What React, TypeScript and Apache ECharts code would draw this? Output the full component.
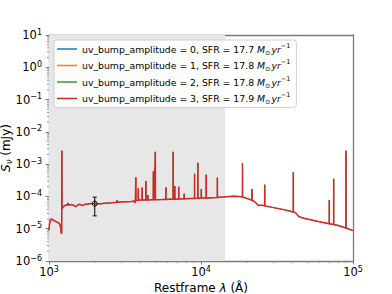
import React, { useEffect, useRef } from "react";
import * as echarts from "echarts";

const wavelengths = [
  1000, 1008, 1020, 1040, 1060, 1080, 1100, 1130, 1160, 1185, 1198, 1206, 1212, 1215, 1218,
  1235, 1260, 1290, 1320, 1335, 1350, 1400, 1450, 1500, 1550, 1600, 1660, 1700, 1800, 1900,
  2000, 2100, 2200, 2300, 2400, 2500, 2600, 2700, 2790, 2800, 2810, 2950, 3100, 3300, 3500,
  3640, 3665, 3700, 3722, 3727, 3732, 3800, 3864, 3869, 3874, 3960, 4096, 4101, 4106, 4200,
  4335, 4340, 4345, 4466, 4471, 4476, 4700, 4856, 4861, 4866, 4954, 4959, 4964, 5002, 5007,
  5012, 5500, 5871, 5876, 5881, 6300, 6557, 6563, 6569, 6720, 6725, 6730, 7130, 7136, 7142,
  7745, 7751, 7757, 8500, 9062, 9069, 9076, 9524, 9531, 9538, 10041, 10049, 10057, 10821, 10830,
  10839, 12808, 12818, 12828, 14000, 15500, 16500, 17500, 18736, 18751, 18766, 20500, 21638, 21655, 21672,
  22500, 23000, 23500, 24000, 24500, 25200, 26231, 26252, 26273, 30000, 35000, 40480, 40512, 40544, 42000,
  43000, 44000, 46000, 50000, 60000, 69800, 69850, 69900, 74550, 74600, 74650, 80000, 89850, 89900, 89950,
  100000,
];
const fluxes = [
  9e-6, 1.4e-5, 1.9e-5, 2.0e-5, 1.85e-5, 1.8e-5, 1.7e-5, 1.6e-5, 1.5e-5, 1.3e-5, 9e-6, 7e-6, 7.5e-6, 2.6e-3, 4.2e-5,
  4.6e-5, 5.1e-5, 5.4e-5, 5.3e-5, 6.3e-5, 5.4e-5, 5.6e-5, 5.3e-5, 4.8e-5, 5.5e-5, 5.7e-5, 5.2e-5, 5.6e-5, 5.8e-5, 6.0e-5,
  6.0e-5, 5.9e-5, 5.9e-5, 6.1e-5, 6.2e-5, 6.3e-5, 6.4e-5, 6.5e-5, 6.5e-5, 7.6e-5, 6.6e-5, 6.7e-5, 6.8e-5, 6.9e-5, 7.0e-5,
  7.2e-5, 6.2e-5, 7.2e-5, 7.3e-5, 3.9e-4, 7.4e-5, 7.5e-5, 7.6e-5, 1.8e-4, 7.6e-5, 7.7e-5, 7.7e-5, 1.9e-4, 7.7e-5, 7.8e-5,
  7.8e-5, 3.0e-4, 7.8e-5, 7.8e-5, 1.1e-4, 7.8e-5, 7.9e-5, 7.9e-5, 6.0e-4, 7.9e-5, 7.9e-5, 8.0e-4, 7.9e-5, 7.9e-5, 2.4e-3,
  7.9e-5, 8.0e-5, 8.1e-5, 1.9e-4, 8.1e-5, 8.2e-5, 8.2e-5, 2.4e-3, 8.2e-5, 8.2e-5, 2.1e-4, 8.2e-5, 8.3e-5, 2.0e-4, 8.3e-5,
  8.4e-5, 1.2e-4, 8.4e-5, 8.6e-5, 8.7e-5, 5.0e-4, 8.7e-5, 8.8e-5, 1.1e-3, 8.8e-5, 8.9e-5, 1.7e-4, 8.9e-5, 9.0e-5, 4.7e-4,
  9.0e-5, 9.3e-5, 3.8e-4, 9.3e-5, 9.6e-5, 1.0e-4, 1.02e-4, 1.0e-4, 9.7e-5, 1.07e-3, 9.6e-5, 8.4e-5, 7.6e-5, 1.7e-4, 7.5e-5,
  7.0e-5, 6.3e-5, 5.6e-5, 5.2e-5, 5.3e-5, 5.3e-5, 5.1e-5, 2.3e-4, 5.1e-5, 4.5e-5, 3.9e-5, 3.3e-5, 5.6e-4, 3.3e-5, 3.1e-5,
  2.7e-5, 2.4e-5, 2.2e-5, 2.0e-5, 1.65e-5, 1.42e-5, 7.8e-5, 1.42e-5, 1.35e-5, 3.5e-4, 1.35e-5, 1.25e-5, 1.05e-5, 2.6e-3, 1.05e-5,
  8.7e-6,
];

const bumpAmplitudes = ["0", "1", "2", "3"];
const sfrValues = ["17.7", "17.8", "17.8", "17.9"];
const seriesColors = ["#1f77b4", "#ff7f0e", "#2ca02c", "#d62728"];

// Photometric point with error bar
const obsWavelength = [2000];
const obsFlux = [6.0e-5];
const obsError = [3.5e-5];

// Shaded wavelength range (Å)
const shadedRange = [1000, 14400];

const xTickExponents = [3, 4, 5];
const yTickExponents = [-6, -5, -4, -3, -2, -1, 0, 1];

const minorMultipliers = [2, 3, 4, 5, 6, 7, 8, 9];
const xMinorTicks: number[] = [];
[3, 4].forEach((e) => minorMultipliers.forEach((m) => xMinorTicks.push(m * Math.pow(10, e))));
const yMinorTicks: number[] = [];
[-6, -5, -4, -3, -2, -1, 0].forEach((e) => minorMultipliers.forEach((m) => yMinorTicks.push(m * Math.pow(10, e))));

const FONT = "DejaVu Sans";
const AXIS_COLOR = "#7a7a7a";

export default function App() {
  const ref = useRef<HTMLDivElement>(null);

  useEffect(() => {
    if (!ref.current) return;
    const chart = echarts.init(ref.current, null, { renderer: "svg" });

    const names = bumpAmplitudes.map(
      (a, i) => `uv_bump_amplitude = ${a}, SFR = ${sfrValues[i]} M⊙yr−1`
    );
    const richNames: Record<string, string> = {};
    names.forEach((n, i) => {
      richNames[n] = `{n|uv_bump_amplitude = ${bumpAmplitudes[i]}, SFR = ${sfrValues[i]} }{i|M}{sub|⊙}{i|yr}{sup|−1}`;
    });

    const lineData = wavelengths.map((w, i) => [w, fluxes[i]]);

    const expLabel = (v: number) => {
      const e = Math.round(Math.log10(v));
      const s = e < 0 ? "−" + Math.abs(e) : String(e);
      return `{b|10}{s|${s}}`;
    };
    const labelRich = {
      b: { fontFamily: FONT, fontSize: 11.5, color: "#000", lineHeight: 14 },
      s: { fontFamily: FONT, fontSize: 8, color: "#000", lineHeight: 8, verticalAlign: "top" },
    };

    const lineSeries = names.map((n, i) => ({
      name: n,
      type: "line",
      data: lineData,
      xAxisIndex: 0,
      yAxisIndex: 0,
      showSymbol: false,
      symbol: "none",
      color: seriesColors[i],
      lineStyle: { color: seriesColors[i], width: i === 3 ? 1.5 : 0.5 },
      itemStyle: { color: seriesColors[i] },
      z: 3 + i,
      silent: true,
      ...(i === 0
        ? {
            markArea: {
              silent: true,
              itemStyle: { color: "#e7e7e7" },
              data: [[{ xAxis: shadedRange[0] }, { xAxis: shadedRange[1] }]],
            },
          }
        : {}),
    }));

    const axisLine = { show: true, lineStyle: { color: AXIS_COLOR, width: 1.3 } };

    const option: any = {
      animation: false,
      backgroundColor: "#fff",
      grid: { left: 49, right: 39, top: 35, bottom: 33, containLabel: false, outerBoundsMode: "none" },
      legend: {
        data: names,
        orient: "vertical",
        left: 54,
        top: 40,
        padding: [2, 6, 2, 3],
        itemGap: 2.5,
        itemWidth: 20,
        itemHeight: 1.5,
        icon: "rect",
        z: 20,
        backgroundColor: "rgba(255,255,255,0.85)",
        borderColor: "#d0d0d0",
        borderWidth: 1,
        borderRadius: 3,
        formatter: (n: string) => richNames[n],
        textStyle: {
          rich: {
            n: { fontFamily: FONT, fontSize: 9.3, color: "#000", lineHeight: 14 },
            i: { fontFamily: FONT, fontStyle: "italic", fontSize: 9.3, color: "#000", lineHeight: 14 },
            sub: { fontFamily: FONT, fontSize: 6.5, color: "#000", lineHeight: 14, verticalAlign: "bottom", padding: [4, 1, 0, 0] },
            sup: { fontFamily: FONT, fontSize: 6.5, color: "#000", lineHeight: 8, verticalAlign: "top" },
          },
        },
      },
      xAxis: [
        {
          type: "log",
          logBase: 10,
          min: Math.pow(10, xTickExponents[0]),
          max: Math.pow(10, xTickExponents[xTickExponents.length - 1]),
          splitNumber: 2,
          position: "bottom",
          name: "{a|Restframe }{i|λ}{a| (Å)}",
          nameLocation: "middle",
          nameGap: 20,
          nameMoveOverlap: false,
          nameTextStyle: {
            rich: {
              a: { fontFamily: FONT, fontSize: 12, color: "#000", lineHeight: 14 },
              i: { fontFamily: FONT, fontSize: 12, fontStyle: "italic", color: "#000", lineHeight: 14 },
            },
          },
          axisLine,
          axisTick: { show: true, length: 3.5, lineStyle: { color: AXIS_COLOR, width: 1 } },
          axisLabel: { formatter: expLabel, margin: 4, rich: labelRich },
          splitLine: { show: false },
          minorTick: { show: false },
        },
        {
          type: "log",
          logBase: 10,
          min: 1000,
          max: 100000,
          position: "top",
          axisLine,
          axisTick: { show: false },
          axisLabel: { show: false },
          splitLine: { show: false },
        },
      ],
      yAxis: [
        {
          type: "log",
          logBase: 10,
          min: Math.pow(10, yTickExponents[0]),
          max: Math.pow(10, yTickExponents[yTickExponents.length - 1]),
          splitNumber: 7,
          position: "left",
          name: "{i|S}{sub|ν}{a| (mJy)}",
          nameLocation: "middle",
          nameGap: 36,
          nameMoveOverlap: false,
          nameRotate: 90,
          nameTextStyle: {
            rich: {
              a: { fontFamily: FONT, fontSize: 12, color: "#000", lineHeight: 14 },
              i: { fontFamily: FONT, fontSize: 12, fontStyle: "italic", color: "#000", lineHeight: 14 },
              sub: { fontFamily: FONT, fontSize: 8.5, fontStyle: "italic", color: "#000", lineHeight: 14, verticalAlign: "bottom", padding: [5, 0, 0, 0] },
            },
          },
          axisLine,
          axisTick: { show: true, length: 3.5, lineStyle: { color: AXIS_COLOR, width: 1 } },
          axisLabel: { formatter: expLabel, margin: 7, rich: labelRich },
          splitLine: { show: false },
        },
        {
          type: "log",
          logBase: 10,
          min: 1e-6,
          max: 10,
          position: "right",
          axisLine,
          axisTick: { show: false },
          axisLabel: { show: false },
          splitLine: { show: false },
        },
      ],
      series: [
        ...lineSeries,
        {
          type: "custom",
          name: "obs",
          xAxisIndex: 0,
          yAxisIndex: 0,
          silent: true,
          z: 10,
          data: obsWavelength.map((w, i) => [w, obsFlux[i], obsError[i]]),
          encode: { x: 0, y: 1 },
          renderItem: (params: any, api: any) => {
            const x = api.value(0);
            const y = api.value(1);
            const e = api.value(2);
            const p = api.coord([x, y]);
            const pt = api.coord([x, y + e]);
            const pb = api.coord([x, y - e]);
            const st = { stroke: "#000", lineWidth: 1 };
            return {
              type: "group",
              children: [
                { type: "line", shape: { x1: p[0], y1: pt[1], x2: p[0], y2: pb[1] }, style: st },
                { type: "line", shape: { x1: p[0] - 2, y1: pt[1], x2: p[0] + 2, y2: pt[1] }, style: st },
                { type: "line", shape: { x1: p[0] - 2, y1: pb[1], x2: p[0] + 2, y2: pb[1] }, style: st },
                { type: "circle", shape: { cx: p[0], cy: p[1], r: 2.5 }, style: { fill: "rgba(0,0,0,0)", stroke: "#000", lineWidth: 1 } },
              ],
            };
          },
        },
        {
          type: "custom",
          name: "xminor",
          xAxisIndex: 0,
          yAxisIndex: 0,
          silent: true,
          z: 10,
          data: xMinorTicks.map((v) => [v, 1e-6]),
          encode: { x: 0, y: 1 },
          renderItem: (params: any, api: any) => {
            const p = api.coord([api.value(0), 1e-6]);
            return {
              type: "line",
              shape: { x1: p[0], y1: p[1], x2: p[0], y2: p[1] + 2 },
              style: { stroke: AXIS_COLOR, lineWidth: 0.8 },
            };
          },
        },
        {
          type: "custom",
          name: "yminor",
          xAxisIndex: 0,
          yAxisIndex: 0,
          silent: true,
          z: 10,
          data: yMinorTicks.map((v) => [1000, v]),
          encode: { x: 0, y: 1 },
          renderItem: (params: any, api: any) => {
            const p = api.coord([1000, api.value(1)]);
            return {
              type: "line",
              shape: { x1: p[0] - 2, y1: p[1], x2: p[0], y2: p[1] },
              style: { stroke: AXIS_COLOR, lineWidth: 0.8 },
            };
          },
        },
      ],
    };

    chart.setOption(option);
    return () => chart.dispose();
  }, []);

  return (
    <div
      ref={ref}
      style={{ position: "absolute", left: 0, top: 0, width: 392, height: 294, background: "#fff" }}
    />
  );
}
